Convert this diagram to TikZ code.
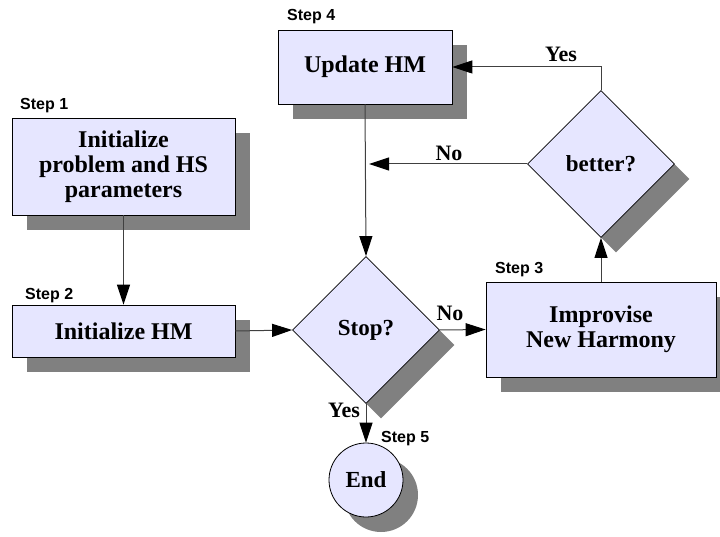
\documentclass[tikz,border=0pt]{standalone}
\usepackage{fontspec}
\setmainfont{Liberation Serif}
\newfontfamily\stepfont{Liberation Sans}
\usetikzlibrary{shapes.geometric,shadows,arrows.meta}
\definecolor{boxfill}{HTML}{E6E6FF}
\definecolor{shadowgray}{HTML}{808080}
\begin{document}
\begin{tikzpicture}[x=1pt,y=-1pt,
  every node/.style={inner sep=0pt},
  shad/.style={drop shadow={shadow xshift=15pt,shadow yshift=-15pt,fill=shadowgray,opacity=1}},
  procbox/.style={draw=black,line width=0.8pt,fill=boxfill,shad,rectangle,align=center,
    font=\fontsize{24}{25}\selectfont\bfseries},
  decide/.style={draw=black,line width=0.8pt,fill=boxfill,shad,diamond,aspect=1,
    minimum width=147pt,minimum height=147pt,font=\fontsize{23}{25}\selectfont\bfseries},
  termnode/.style={draw=black,line width=0.8pt,fill=boxfill,shad,circle,minimum size=74pt,
    font=\fontsize{23}{25}\selectfont\bfseries},
  steplabel/.style={anchor=base west,font=\stepfont\fontsize{16}{16}\selectfont\bfseries},
  lbl/.style={anchor=base,font=\fontsize{22}{22}\selectfont\bfseries},
  conn/.style={draw=black!75,line width=1pt},
  arr/.style={conn,-{Triangle[length=20pt,width=13pt,black]}}
]
\useasboundingbox (0,0) rectangle (720,537);

\node[procbox,minimum width=223pt,minimum height=97pt] (s1) at (123.5,166.5)
  {Initialize\\problem and HS\\parameters};
\node[procbox,minimum width=223pt,minimum height=52pt] (s2) at (123.5,331) {Initialize HM};
\node[procbox,minimum width=174pt,minimum height=74pt] (upd) at (365,67) {Update HM};
\node[procbox,minimum width=230pt,minimum height=95pt] (imp) at (601,329.5)
  {Improvise\\New Harmony};
\node[decide] (stop) at (366,330) {Stop?};
\node[decide] (better) at (601,164) {better?};
\node[termnode] (end) at (366,480) {End};

\node[steplabel] (l1) at (20,110) {Step 1};
\node[steplabel] (l2) at (25,299) {Step 2};
\node[steplabel] (l3) at (495,274) {Step 3};
\node[steplabel] (l4) at (287,21) {Step 4};
\node[steplabel] (l5) at (381,442) {Step 5};

\draw[arr] (s1.south) -- (s2.north);
\draw[arr] (s2.east) -- (stop.west);
\draw[arr] (stop.east) -- (imp.west);
\draw[arr] (imp.north -| better.south) -- (better.south);
\draw[arr] (better.north) |- (upd.east);
\coordinate (nojoin) at (369,164);
\draw[arr] (better.west) -- (nojoin);
\draw[arr] (upd.south) -- (stop.north);
\draw[arr] (stop.south) -- (end.north);

\node[lbl] (yes1) at (561,62) {Yes};
\node[lbl] (no1) at (449,161) {No};
\node[lbl] (no2) at (450,320) {No};
\node[lbl] (yes2) at (344,417) {Yes};
\end{tikzpicture}
\end{document}
